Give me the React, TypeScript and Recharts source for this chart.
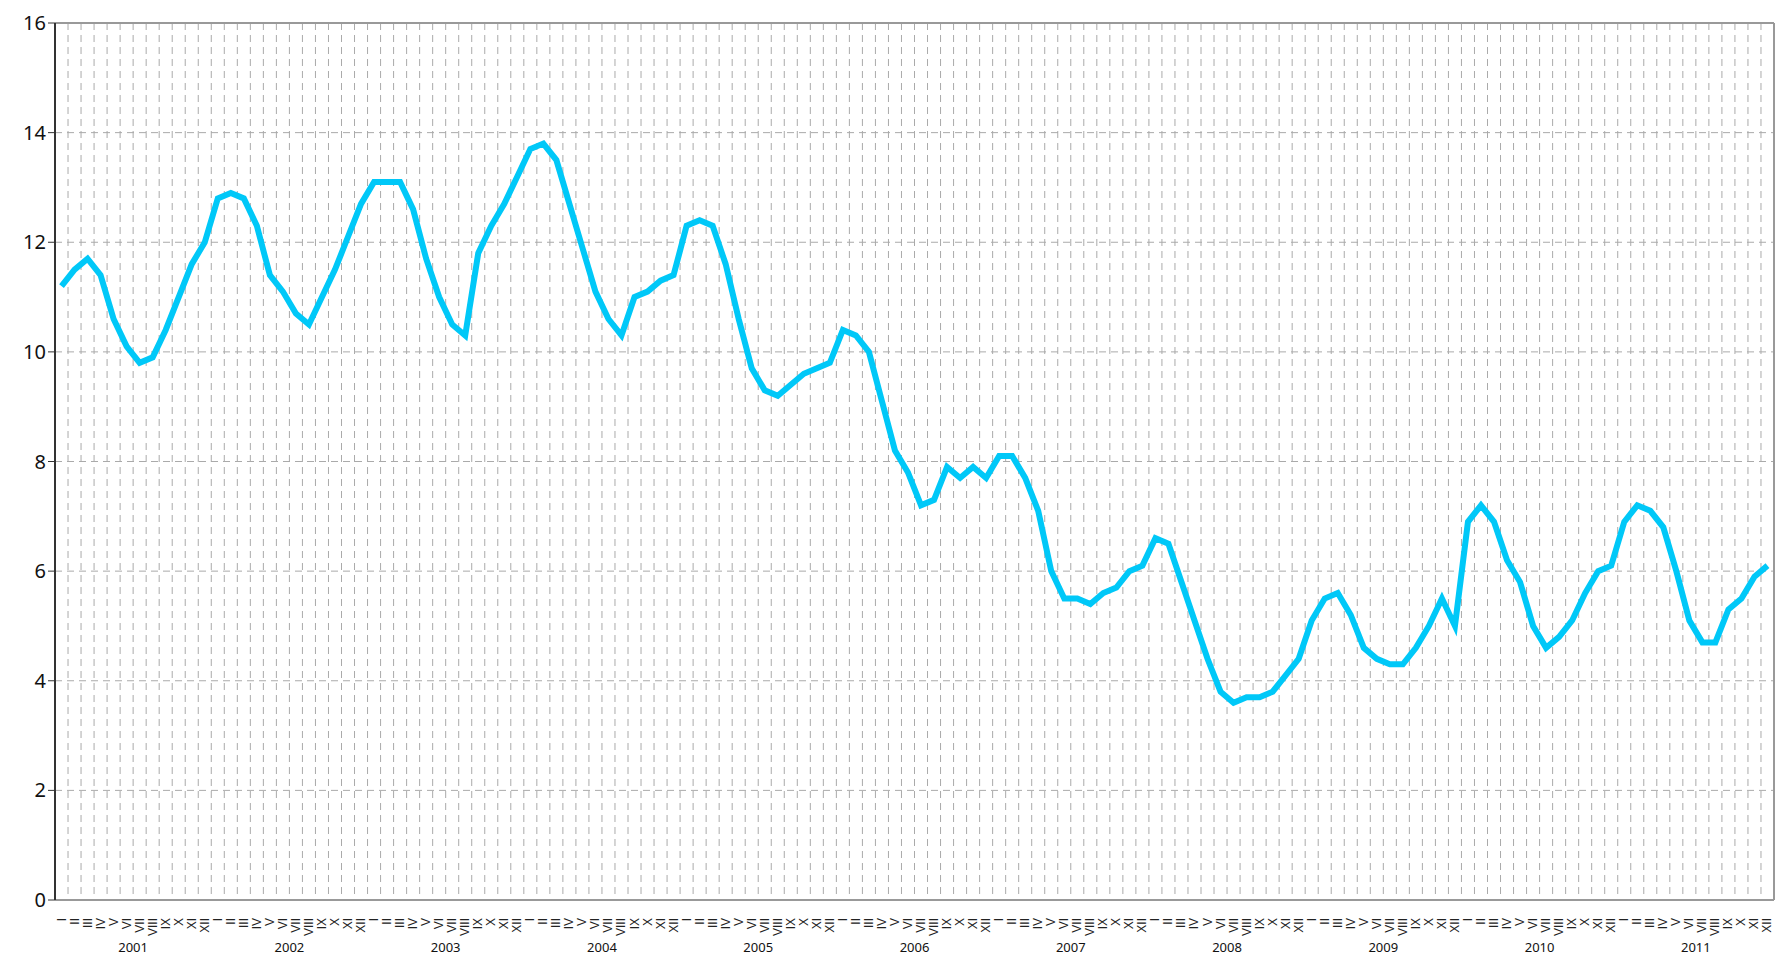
import React from 'react';
import { LineChart, Line, XAxis, YAxis, CartesianGrid, ReferenceLine } from 'recharts';

const YEARS = ['2001', '2002', '2003', '2004', '2005', '2006', '2007', '2008', '2009', '2010', '2011'];
const MONTHS = ['I', 'II', 'III', 'IV', 'V', 'VI', 'VII', 'VIII', 'IX', 'X', 'XI', 'XII'];
const VALUES = [
  11.2, 11.5, 11.7, 11.4, 10.6, 10.1, 9.8, 9.9, 10.4, 11.0, 11.6, 12.0,
  12.8, 12.9, 12.8, 12.3, 11.4, 11.1, 10.7, 10.5, 11.0, 11.5, 12.1, 12.7,
  13.1, 13.1, 13.1, 12.6, 11.7, 11.0, 10.5, 10.3, 11.8, 12.3, 12.7, 13.2,
  13.7, 13.8, 13.5, 12.7, 11.9, 11.1, 10.6, 10.3, 11.0, 11.1, 11.3, 11.4,
  12.3, 12.4, 12.3, 11.6, 10.6, 9.7, 9.3, 9.2, 9.4, 9.6, 9.7, 9.8,
  10.4, 10.3, 10.0, 9.1, 8.2, 7.8, 7.2, 7.3, 7.9, 7.7, 7.9, 7.7,
  8.1, 8.1, 7.7, 7.1, 6.0, 5.5, 5.5, 5.4, 5.6, 5.7, 6.0, 6.1,
  6.6, 6.5, 5.8, 5.1, 4.4, 3.8, 3.6, 3.7, 3.7, 3.8, 4.1, 4.4,
  5.1, 5.5, 5.6, 5.2, 4.6, 4.4, 4.3, 4.3, 4.6, 5.0, 5.5, 5.0,
  6.9, 7.2, 6.9, 6.2, 5.8, 5.0, 4.6, 4.8, 5.1, 5.6, 6.0, 6.1,
  6.9, 7.2, 7.1, 6.8, 6.0, 5.1, 4.7, 4.7, 5.3, 5.5, 5.9, 6.1,
];
const Y_TICKS = [0, 2, 4, 6, 8, 10, 12, 14, 16];

const data = VALUES.map((v, i) => ({
  key: `${YEARS[Math.floor(i / 12)]}-${i % 12}`,
  month: MONTHS[i % 12],
  year: YEARS[Math.floor(i / 12)],
  idx: i % 12,
  value: v,
}));

const W = 1776;
const H = 960;
const N = VALUES.length;
const LEFT = 55;
const RIGHT = 2;
const TOP = 23;
const XH = 60;

const MonthTick = (props: any) => {
  const { x, y, payload } = props;
  const d = data[payload.index];
  const band = (W - LEFT - RIGHT) / N;
  return (
    <g>
      <text
        x={0}
        y={0}
        transform={`translate(${x + 4},${y + 10}) rotate(-90)`}
        fontSize={12}
        fontFamily="Liberation Sans"
        fill="#222"
        textAnchor="end"
      >
        {d.month}
      </text>
      {d.idx === 5 && (
        <text x={x + band / 2} y={y + 44} fontSize={13} fontFamily="Noto Sans" fill="#111" textAnchor="middle">
          {d.year}
        </text>
      )}
    </g>
  );
};

export default function App() {
  return (
    <div style={{ position: 'absolute', left: 0, top: 0, background: '#fff' }}>
      <LineChart width={W} height={H} data={data} margin={{ top: TOP, right: RIGHT, bottom: 0, left: 0 }}>
        <CartesianGrid
          stroke="#aaa"
          strokeDasharray="7 5"
          verticalCoordinatesGenerator={({ offset }: any) =>
            Array.from({ length: N - 1 }, (_, i) => offset.left + ((i + 1) * offset.width) / N)
          }
        />
        <XAxis
          dataKey="key"
          scale="band"
          interval={0}
          tick={<MonthTick />}
          tickLine={false}
          axisLine={{ stroke: '#999', strokeWidth: 2 }}
          height={XH}
        />
        <YAxis
          domain={[0, 16]}
          ticks={Y_TICKS}
          width={LEFT}
          tick={{ fontSize: 20, fill: '#111', fontFamily: 'Noto Sans' }}
          tickLine={{ stroke: '#333' }}
          tickSize={7}
          axisLine={{ stroke: '#333', strokeWidth: 2 }}
        />
        <ReferenceLine y={16} stroke="#999" strokeWidth={2} />
        <Line
          type="linear"
          dataKey="value"
          stroke="#00c8f8"
          strokeWidth={6}
          dot={false}
          isAnimationActive={false}
        />
      </LineChart>
      <div
        style={{ position: 'absolute', left: W - RIGHT - 1, top: TOP, width: 2, height: H - TOP - XH, background: '#999' }}
      />
    </div>
  );
}
